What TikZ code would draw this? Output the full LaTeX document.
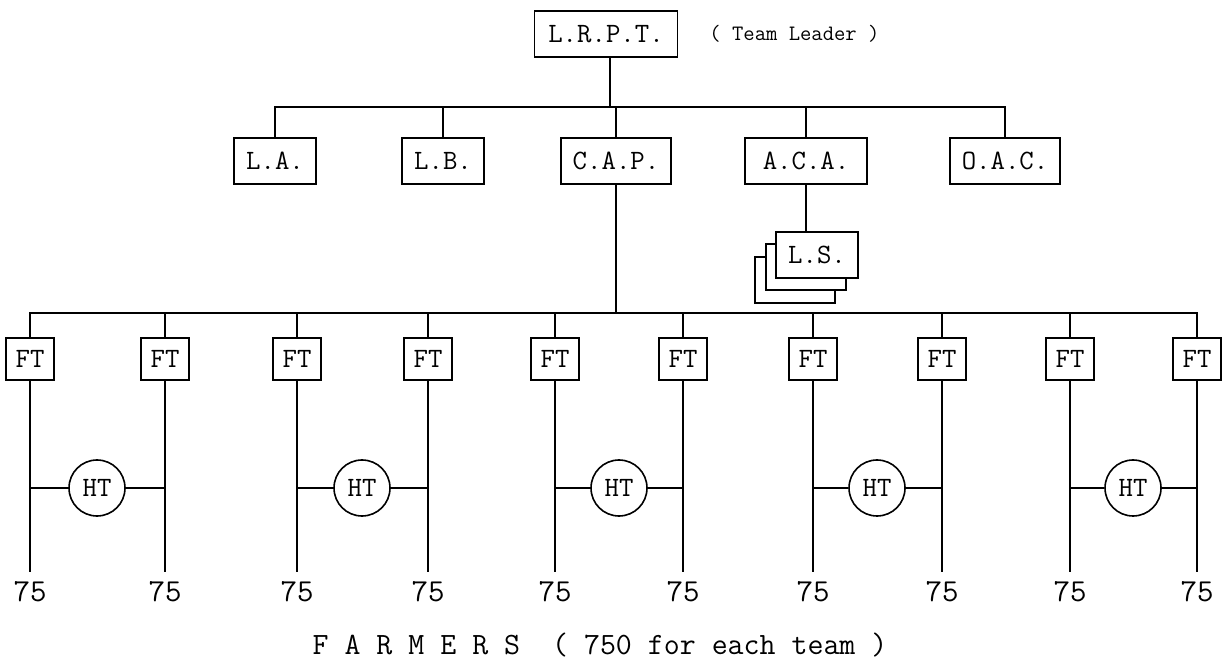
\documentclass[tikz,border=0pt]{standalone}
\usetikzlibrary{positioning}

\begin{document}
\begin{tikzpicture}[
  x=0.5pt, y=-0.5pt, font=\ttfamily\fontsize{14}{16}\selectfont,
  post/.style  ={draw, line width=0.9pt, fill=white, inner xsep=6pt, minimum height=23pt},
  ftbox/.style ={draw, line width=0.9pt, fill=white, minimum width=24pt, minimum height=21pt, inner sep=1pt, font=\ttfamily\fontsize{14}{16}\selectfont},
  htcirc/.style={circle, draw, line width=0.8pt, minimum size=28pt, inner sep=0pt},
  link/.style  ={line width=0.9pt},
  count/.style ={font=\ttfamily\fontsize{16}{18}\selectfont},
]
\useasboundingbox (0,0) rectangle (1225,667);

% ---------- team leader ----------
\node[post, minimum width=71.5pt] (lrpt) at (606,34) {L.R.P.T.};
\node[right=12pt of lrpt, font=\ttfamily\fontsize{11}{13}\selectfont] (leader) {( Team Leader )};

% ---------- second row ----------
\node[post] (la)  at (275,161)  {L.A.};
\node[post] (lb)  at (443,161)  {L.B.};
\node[post] (cap) at (616,161)  {C.A.P.};
\node[post, minimum width=61pt] (aca) at (806,161) {A.C.A.};
\node[post] (oac) at (1005,161) {O.A.C.};
\coordinate (bus1) at (610,107);
\draw[link] (lrpt.south -| bus1) -- (bus1);
\draw[link] (la.north) |- (bus1) -| (oac.north);
\draw[link] (lb.north) -- (lb.north |- bus1);
\draw[link] (cap.north) -- (cap.north |- bus1);
\draw[link] (aca.north) -- (aca.north |- bus1);

% ---------- L.S. stack ----------
\node[post, minimum width=40pt] (ls3) at (795,280) {};
\node[post, minimum width=40pt] (ls2) at (806,267) {};
\node[post, minimum width=40pt] (ls)  at (817,255) {L.S.};
\draw[link] (aca.south) -- (aca.south |- ls.north);

% ---------- field teams ----------
\coordinate (bus2) at (616,313);
\draw[link] (cap.south) -- (bus2);
\foreach \i/\x in {1/30,2/165,3/297,4/428,5/555,6/683,7/813,8/942,9/1070,10/1197} {
  \node[ftbox] (ft\i) at (\x,359) {FT};
  \coordinate (end\i) at (\x,572);
  \draw[link] (ft\i) -- (end\i);
  \node[count] (n\i) at (\x,592) {75};
}
\draw[link] (ft1.north) |- (bus2) -| (ft10.north);
\foreach \i in {2,...,9} \draw[link] (ft\i.north) -- (ft\i.north |- bus2);

% ---------- helper teams ----------
\foreach \j/\a/\b/\x in {1/1/2/97, 2/3/4/362, 3/5/6/619, 4/7/8/877, 5/9/10/1133} {
  \node[htcirc] (ht\j) at (\x,488) {HT};
  \draw[link] (ht\j) -- (ht\j -| ft\a);
  \draw[link] (ht\j) -- (ht\j -| ft\b);
}

\node[font=\ttfamily\fontsize{15.5}{18}\selectfont] (farmers) at (600,645) {F A R M E R S\ \ ( 750 for each team )};

\end{tikzpicture}
\end{document}
